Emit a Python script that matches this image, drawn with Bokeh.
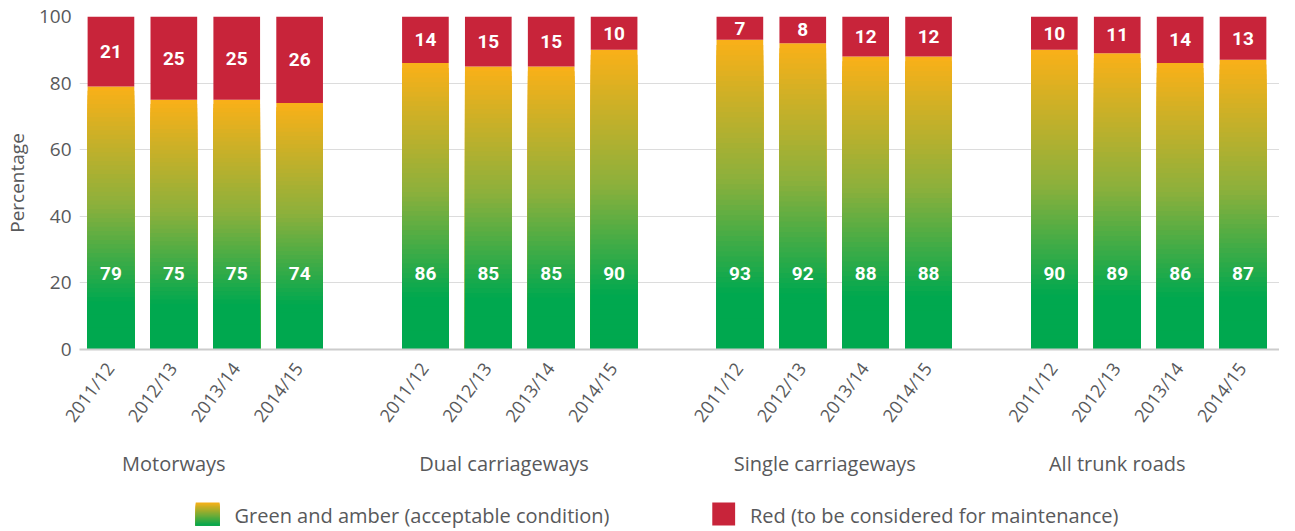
import numpy as np
from bokeh.plotting import figure
from bokeh.models import Range1d, LinearAxis, FixedTicker, ColumnDataSource
from bokeh.layouts import column
from bokeh.embed import file_html
from bokeh.resources import INLINE
from bokeh.core.properties import value

# ---------------- data ----------------
groups = ["Motorways", "Dual carriageways", "Single carriageways", "All trunk roads"]
years = ["2011/12", "2012/13", "2013/14", "2014/15"]
green_amber = [
    [79, 75, 75, 74],
    [86, 85, 85, 90],
    [93, 92, 88, 88],
    [90, 89, 86, 87],
]
red = [
    [21, 25, 25, 26],
    [14, 15, 15, 10],
    [7, 8, 12, 12],
    [10, 11, 14, 13],
]
y_ticks = [0, 20, 40, 60, 80, 100]
legend_labels = ["Green and amber (acceptable condition)", "Red (to be considered for maintenance)"]

# ---------------- style ----------------
FONT = "Open Sans"
TXT = "#58595b"
RED = "#c8243a"
GREEN = (0, 168, 79)
MID = (140, 176, 60)
AMBER = (250, 176, 24)
SLOT = 5          # slots per group (4 bars + 1 gap)
HALF_W = 0.371
N_SLICES = 60
GREEN_LABEL_Y = 22.7
GROUP_LABEL_POS = [1.0, 6.25, 11.35, 16.0]
YEAR_LABEL_SHIFT = -0.02


def grad_color(f):
    if f <= 0.18:
        c = GREEN
    elif f <= 0.55:
        t = (f - 0.18) / (0.55 - 0.18)
        c = tuple(GREEN[k] + (MID[k] - GREEN[k]) * t for k in range(3))
    else:
        t = (f - 0.55) / (1 - 0.55)
        c = tuple(MID[k] + (AMBER[k] - MID[k]) * t for k in range(3))
    return "#%02x%02x%02x" % tuple(int(round(v)) for v in c)


xs, ga, rd, tick_pos, tick_labels = [], [], [], [], {}
for g in range(len(groups)):
    for i in range(len(years)):
        x = g * SLOT + i
        xs.append(x)
        ga.append(green_amber[g][i])
        rd.append(red[g][i])
        tp = round(x + YEAR_LABEL_SHIFT, 3)
        tick_pos.append(tp)
        tick_labels[tp] = years[i]

# gradient: paint from the top slice downwards, each slice reaching down to 0,
# so that no seams appear between slices
sl = dict(left=[], right=[], bottom=[], top=[], color=[])
for x, v in zip(xs, ga):
    for k in range(N_SLICES - 1, -1, -1):
        sl["left"].append(x - HALF_W)
        sl["right"].append(x + HALF_W)
        sl["bottom"].append(0)
        sl["top"].append(v * (k + 1) / N_SLICES)
        sl["color"].append(grad_color((k + 0.5) / N_SLICES))

red_src = ColumnDataSource(dict(
    left=[x - HALF_W for x in xs], right=[x + HALF_W for x in xs],
    bottom=ga, top=[a + b for a, b in zip(ga, rd)],
    x=xs, mid=[a + b / 2 for a, b in zip(ga, rd)], lab=[str(v) for v in rd],
))
green_lab_src = ColumnDataSource(dict(x=xs, y=[GREEN_LABEL_Y] * len(xs), lab=[str(v) for v in ga]))

p = figure(
    width=1279, height=480,
    x_range=Range1d(-0.5, 18.58), y_range=Range1d(0, 100),
    output_backend="svg", toolbar_location=None,
    min_border_left=71, min_border_right=0, min_border_top=16, min_border_bottom=131,
)
p.outline_line_color = None
p.background_fill_color = "white"
p.xgrid.grid_line_color = None
p.ygrid.grid_line_color = "#dcdcdc"
p.ygrid.grid_line_width = 1
p.ygrid.ticker = FixedTicker(ticks=y_ticks)

p.quad(left="left", right="right", bottom="bottom", top="top", fill_color="color",
       line_color=None, source=ColumnDataSource(sl))
p.quad(left="left", right="right", bottom="bottom", top="top", source=red_src,
       fill_color=RED, line_color=None)

for src, ycol in ((red_src, "mid"), (green_lab_src, "y")):
    p.text(x="x", y=ycol, text="lab", source=src, text_color="white",
           text_font=value("Roboto"), text_font_style="bold", text_font_size="19px",
           text_align="center", text_baseline="middle")

# y axis
ya = p.yaxis[0]
ya.ticker = FixedTicker(ticks=y_ticks)
ya.axis_line_color = None
ya.major_tick_line_color = None
ya.minor_tick_line_color = None
ya.major_tick_out = 0
ya.major_tick_in = 0
ya.minor_tick_out = 0
ya.major_label_text_font = FONT
ya.major_label_text_font_size = "19px"
ya.major_label_text_color = TXT
ya.major_label_standoff = 8
ya.axis_label = "Percentage"
ya.axis_label_text_font = FONT
ya.axis_label_text_font_size = "19px"
ya.axis_label_text_font_style = "normal"
ya.axis_label_text_color = TXT
ya.axis_label_standoff = 6

# x axis (years)
xa = p.xaxis[0]
xa.ticker = FixedTicker(ticks=tick_pos)
xa.major_label_overrides = tick_labels
xa.major_label_orientation = 0.93
xa.axis_line_color = "#cccccc"
xa.axis_line_width = 2
xa.major_tick_line_color = None
xa.minor_tick_line_color = None
xa.major_tick_out = 0
xa.major_tick_in = 0
xa.minor_tick_out = 0
xa.major_label_text_font = FONT
xa.major_label_text_font_size = "18px"
xa.major_label_text_color = TXT
xa.major_label_standoff = 15

# group labels axis
gl_axis = LinearAxis(
    ticker=FixedTicker(ticks=GROUP_LABEL_POS),
    major_label_overrides={pos: name for pos, name in zip(GROUP_LABEL_POS, groups)},
    axis_line_color=None, major_tick_line_color=None, minor_tick_line_color=None,
    major_tick_out=0, major_tick_in=0, minor_tick_out=0,
    major_label_text_font=FONT, major_label_text_font_size="20px",
    major_label_text_color=TXT, major_label_standoff=13,
)
p.add_layout(gl_axis, "below")

# ---------------- legend (separate strip; its frame aligns with the main frame) ----------------
lg = figure(width=1279, height=51, x_range=Range1d(79, 1287), y_range=Range1d(51, 0),
            output_backend="svg", toolbar_location=None,
            min_border_left=71, min_border_right=0, min_border_top=0, min_border_bottom=0,
            x_axis_location=None, y_axis_location=None)
lg.outline_line_color = None
lg.xgrid.visible = False
lg.ygrid.visible = False

sw_top, sw_bot = 22, 45
n_sw = 24
sw = dict(left=[], right=[], bottom=[], top=[], color=[])
for k in range(n_sw - 1, -1, -1):
    sw["left"].append(196)
    sw["right"].append(220)
    sw["bottom"].append(sw_bot)
    sw["top"].append(sw_bot - (sw_bot - sw_top) * (k + 1) / n_sw)
    f = (k + 0.5) / n_sw
    c = tuple(GREEN[j] + (AMBER[j] - GREEN[j]) * f for j in range(3))
    sw["color"].append("#%02x%02x%02x" % tuple(int(round(v)) for v in c))
lg.quad(left="left", right="right", bottom="bottom", top="top", fill_color="color",
        line_color=None, source=ColumnDataSource(sw))
lg.quad(left=[716], right=[739], bottom=[sw_bot], top=[sw_top], fill_color=RED, line_color=None)
lg.text(x=[235, 754], y=[35, 35], text=legend_labels, text_font=value(FONT),
        text_font_size="20px", text_color=TXT, text_baseline="middle", text_align="left")

layout = column(p, lg, spacing=0)
open("out.html", "w").write(file_html(layout, INLINE))
